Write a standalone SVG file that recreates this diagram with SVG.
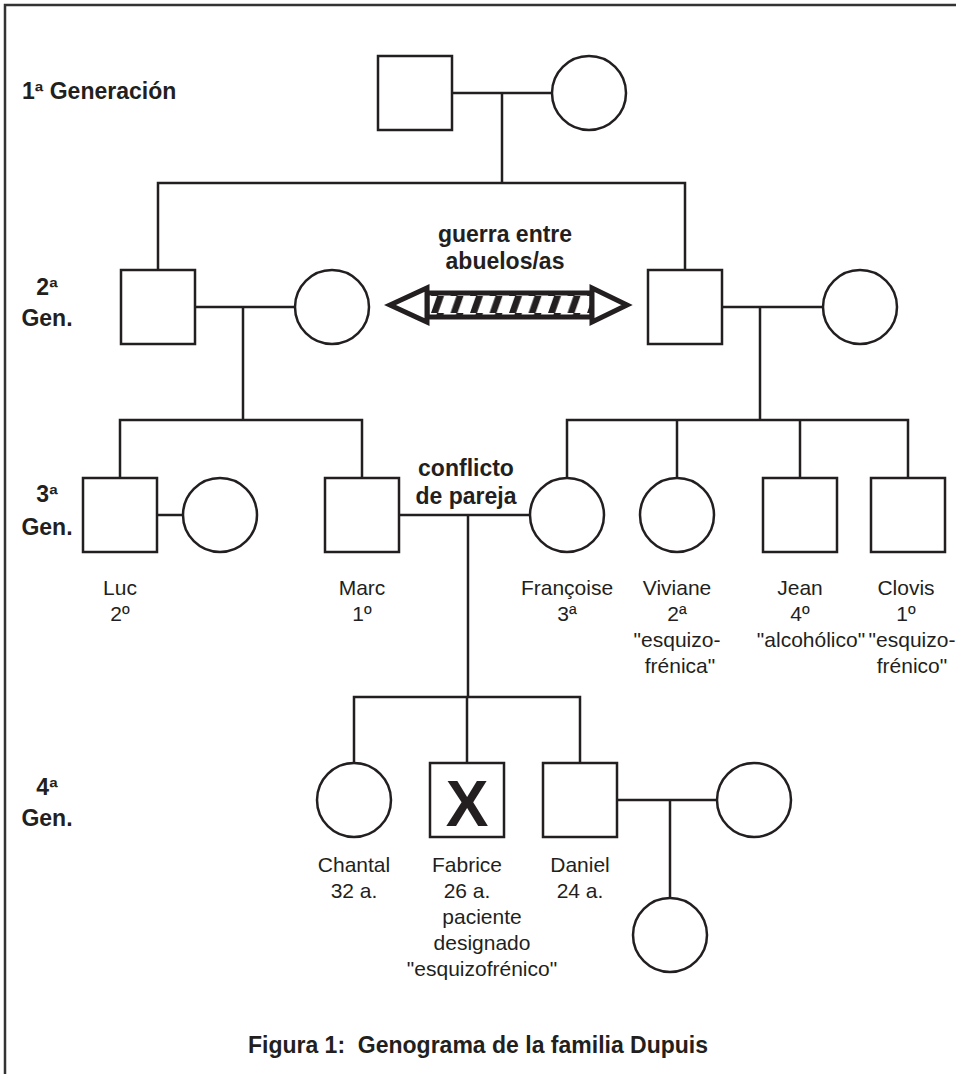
<svg xmlns="http://www.w3.org/2000/svg" width="956" height="1074" viewBox="0 0 956 1074">
<style>
.n{fill:#fff;stroke:#231f20;stroke-width:2.5}
.c line,.c polyline{stroke:#231f20;stroke-width:2.5;fill:none}
.t{font-family:"Liberation Sans",Arial,sans-serif;font-size:21px;fill:#231f20;text-anchor:middle}
.b{font-family:"Liberation Sans",Arial,sans-serif;font-size:23px;font-weight:bold;fill:#231f20}
.m{text-anchor:middle}
</style>
<defs>
<pattern id="hatch" patternUnits="userSpaceOnUse" x="431" y="296" width="19.5" height="17">
<rect width="19.5" height="17" fill="#fff"/>
<polygon points="0,17 7,17 13,0 6,0" fill="#231f20"/>
</pattern>
</defs>
<rect x="5" y="5" width="1000" height="1100" fill="none" stroke="#333" stroke-width="2.5"/>

<g id="labels">
<text class="b" x="22" y="99">1ª Generación</text>
<text class="b m" x="47" y="295">2ª</text>
<text class="b m" x="47" y="326">Gen.</text>
<text class="b m" x="47" y="502">3ª</text>
<text class="b m" x="47" y="535">Gen.</text>
<text class="b m" x="47" y="795">4ª</text>
<text class="b m" x="47" y="826">Gen.</text>
<text class="b m" x="505" y="242">guerra entre</text>
<text class="b m" x="505" y="269">abuelos/as</text>
<text class="b m" x="466" y="476">conflicto</text>
<text class="b m" x="466" y="504">de pareja</text>
<text class="b m" x="478" y="1053">Figura 1:&#160; Genograma de la familia Dupuis</text>
</g>

<g class="c" id="connectors">
<line x1="452" y1="93" x2="552" y2="93"/>
<line x1="502" y1="93" x2="502" y2="183"/>
<polyline points="158,270 158,183 685,183 685,270"/>
<line x1="195" y1="307" x2="295" y2="307"/>
<line x1="243" y1="307" x2="243" y2="420"/>
<polyline points="120,478 120,420 362,420 362,478"/>
<line x1="722" y1="307" x2="823" y2="307"/>
<line x1="760" y1="307" x2="760" y2="420"/>
<polyline points="567,478 567,420 908,420 908,478"/>
<line x1="677" y1="420" x2="677" y2="478"/>
<line x1="800" y1="420" x2="800" y2="478"/>
<line x1="157" y1="515" x2="183" y2="515"/>
<line x1="399" y1="515" x2="530" y2="515"/>
<line x1="468" y1="515" x2="468" y2="697"/>
<polyline points="354,763 354,697 580,697 580,763"/>
<line x1="467" y1="697" x2="467" y2="763"/>
<line x1="617" y1="800" x2="717" y2="800"/>
<line x1="670" y1="800" x2="670" y2="898"/>
</g>

<g id="conflict-arrow">
<rect x="427" y="293" width="165" height="24" fill="url(#hatch)" stroke="#231f20" stroke-width="5"/>
<polygon points="390,305 427,288 427,322" fill="#fff" stroke="#231f20" stroke-width="5" stroke-linejoin="miter"/>
<polygon points="627,305 592,288 592,322" fill="#fff" stroke="#231f20" stroke-width="5" stroke-linejoin="miter"/>
</g>

<g id="g1-father"><rect class="n" x="378" y="56" width="74" height="74"/></g>
<g id="g1-mother"><circle class="n" cx="589" cy="93" r="37"/></g>

<g id="g2-left-father"><rect class="n" x="121" y="270" width="74" height="74"/></g>
<g id="g2-left-mother"><circle class="n" cx="332" cy="307" r="37"/></g>
<g id="g2-right-father"><rect class="n" x="648" y="270" width="74" height="74"/></g>
<g id="g2-right-mother"><circle class="n" cx="860" cy="307" r="37"/></g>

<g id="luc"><rect class="n" x="83" y="478" width="74" height="74"/>
<text class="t" x="120" y="595">Luc</text><text class="t" x="120" y="621">2º</text></g>
<g id="luc-wife"><circle class="n" cx="220" cy="515" r="37"/></g>
<g id="marc"><rect class="n" x="325" y="478" width="74" height="74"/>
<text class="t" x="362" y="595">Marc</text><text class="t" x="362" y="621">1º</text></g>
<g id="francoise"><circle class="n" cx="567" cy="515" r="37"/>
<text class="t" x="567" y="595">Françoise</text><text class="t" x="567" y="621">3ª</text></g>
<g id="viviane"><circle class="n" cx="677" cy="515" r="37"/>
<text class="t" x="677" y="595">Viviane</text><text class="t" x="677" y="621">2ª</text>
<text class="t" x="677" y="647">"esquizo-</text><text class="t" x="680" y="673">frénica"</text></g>
<g id="jean"><rect class="n" x="763" y="478" width="74" height="74"/>
<text class="t" x="800" y="595">Jean</text><text class="t" x="800" y="621">4º</text>
<text class="t" x="811" y="647">"alcohólico"</text></g>
<g id="clovis"><rect class="n" x="871" y="478" width="74" height="74"/>
<text class="t" x="906" y="595">Clovis</text><text class="t" x="906" y="621">1º</text>
<text class="t" x="912" y="647">"esquizo-</text><text class="t" x="912" y="673">frénico"</text></g>

<g id="chantal"><circle class="n" cx="354" cy="800" r="37"/>
<text class="t" x="354" y="872">Chantal</text><text class="t" x="354" y="898">32 a.</text></g>
<g id="fabrice"><rect class="n" x="430" y="763" width="74" height="74"/>
<text class="b m" x="467" y="826" style="font-size:64px">X</text>
<text class="t" x="467" y="872">Fabrice</text><text class="t" x="467" y="898">26 a.</text>
<text class="t" x="482" y="924">paciente</text><text class="t" x="482" y="950">designado</text>
<text class="t" x="482" y="976">"esquizofrénico"</text></g>
<g id="daniel"><rect class="n" x="543" y="763" width="74" height="74"/>
<text class="t" x="580" y="872">Daniel</text><text class="t" x="580" y="898">24 a.</text></g>
<g id="daniel-wife"><circle class="n" cx="754" cy="800" r="37"/></g>
<g id="daniel-child"><circle class="n" cx="670" cy="935" r="37"/></g>
</svg>
